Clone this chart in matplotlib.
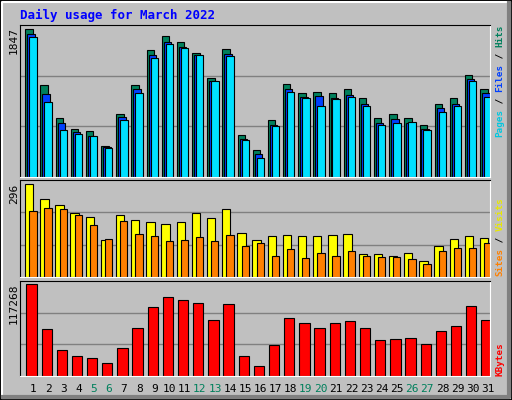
import matplotlib.pyplot as plt
from matplotlib.patches import Rectangle
import numpy as np

days = list(range(1, 32))
weekend = [5, 6, 12, 13, 19, 20, 26, 27]

hits = [1847, 1153, 744, 606, 581, 393, 782, 1153, 1584, 1759, 1684, 1546, 1233, 1596, 531, 343,
        719, 1157, 1045, 1057, 1045, 1095, 982, 732, 782, 744, 656, 919, 982, 1270, 1095]
files = [1787, 1032, 681, 568, 518, 372, 745, 1095, 1521, 1684, 1621, 1521, 1195, 1533, 480, 292,
         656, 1095, 995, 1007, 982, 1020, 919, 681, 731, 681, 606, 857, 907, 1220, 1045]
pages = [1747, 932, 593, 543, 518, 368, 719, 1045, 1483, 1659, 1609, 1521, 1195, 1509, 468, 242,
         644, 1057, 982, 882, 970, 995, 882, 656, 681, 694, 593, 807, 882, 1195, 995]
visits = [296, 248, 229, 203, 190, 116, 197, 181, 174, 168, 174, 203, 187, 216, 139, 116,
          129, 133, 129, 129, 133, 136, 72, 72, 65, 75, 52, 97, 120, 129, 123]
sites = [209, 219, 216, 197, 165, 120, 177, 136, 129, 113, 116, 126, 113, 133, 97, 107,
         68, 88, 59, 75, 65, 81, 68, 62, 62, 56, 40, 84, 91, 91, 107]
kbytes = [117268, 59492, 33812, 26108, 23540, 17120, 36380, 60776, 87740, 100580, 96728, 92876,
          71048, 91592, 26108, 13268, 40232, 73616, 67196, 60776, 67196, 69764, 60776, 46652,
          47936, 49220, 41516, 56924, 63344, 89024, 71048]

BG = '#C0C0C0'
GRID = '#808080'
MONO = 'DejaVu Sans Mono'
W, H = 512, 400
CH = 5.6  # px per character of the side labels

fig = plt.figure(figsize=(W / 100, H / 100), dpi=100, facecolor=BG)

# bevelled outer frame
fig.patches.append(Rectangle((0, 0), 1, 1, transform=fig.transFigure, fill=False,
                             edgecolor='black', lw=2))
fig.add_artist(plt.Line2D([2 / W, 2 / W, 1 - 3 / W], [3 / H, 1 - 2 / H, 1 - 2 / H],
                          transform=fig.transFigure, color='white', lw=1.5))
fig.add_artist(plt.Line2D([3 / W, 1 - 3 / W, 1 - 3 / W], [3 / H, 3 / H, 1 - 3 / H],
                          transform=fig.transFigure, color='#808080', lw=3))

fig.text(20 / W, 1 - 15 / H, 'Daily usage for March 2022', color='#0000FF',
         family=MONO, weight='bold', fontsize=9, va='center')

x = np.arange(31)


def panel(top, bottom, ymax):
    ax = fig.add_axes([20 / W, 1 - bottom / H, 470 / W, (bottom - top) / H])
    ax.set_facecolor(BG)
    ax.set_xlim(0, 31)
    ax.set_ylim(0, ymax)
    ax.set_xticks([])
    ax.set_yticks([])
    for y in (ymax / 3, 2 * ymax / 3):
        ax.axhline(y, color=GRID, lw=1, zorder=0)
    ax.spines['left'].set_color('black')
    ax.spines['top'].set_color('black')
    ax.spines['right'].set_color('white')
    ax.spines['bottom'].set_color('white')
    return ax


def side_label(parts, ystart):
    ypos = ystart
    for s, col in parts:
        fig.text(500 / W, 1 - ypos / H, s, rotation=90, ha='center', va='bottom', color=col,
                 family=MONO, weight='bold', fontsize=6.7)
        ypos -= CH * len(s)


bk = dict(edgecolor='black', linewidth=0.8, align='edge')

ax1 = panel(25, 177, 1901)
ax1.bar(x + 0.35, hits, 0.49, color='#00805C', **bk)
ax1.bar(x + 0.48, files, 0.49, color='#0040FF', **bk)
ax1.bar(x + 0.61, pages, 0.49, color='#00E0FF', **bk)
fig.text(14 / W, 1 - 27 / H, str(max(hits)), rotation=90, ha='center', va='top',
         family=MONO, fontsize=8)
side_label([('Pages', '#00C8E0'), (' / ', 'black'), ('Files', '#0040FF'),
            (' / ', 'black'), ('Hits', '#00805C')], 137)

ax2 = panel(180, 277, 307.5)
ax2.bar(x + 0.33, visits, 0.55, color='#FFFF00', **bk)
ax2.bar(x + 0.61, sites, 0.48, color='#FF8000', **bk)
fig.text(14 / W, 1 - 184 / H, str(max(visits)), rotation=90, ha='center', va='top',
         family=MONO, fontsize=8)
side_label([('Sites', '#FF8000'), (' / ', 'black'), ('Visits', '#E8E800')], 276)

ax3 = panel(281, 376, 121500)
ax3.bar(x + 0.42, kbytes, 0.68, color='#FF0000', **bk)
fig.text(14 / W, 1 - 284 / H, str(max(kbytes)), rotation=90, ha='center', va='top',
         family=MONO, fontsize=8)
side_label([('KBytes', '#FF0000')], 376)

for d in days:
    col = '#00805C' if d in weekend else 'black'
    fig.text((20 + (d - 1 + 0.86) * 470 / 31) / W, 1 - 389 / H, str(d), ha='center',
             va='center', color=col, family=MONO, fontsize=8)

fig.savefig('out.png', dpi=100, facecolor=BG)
